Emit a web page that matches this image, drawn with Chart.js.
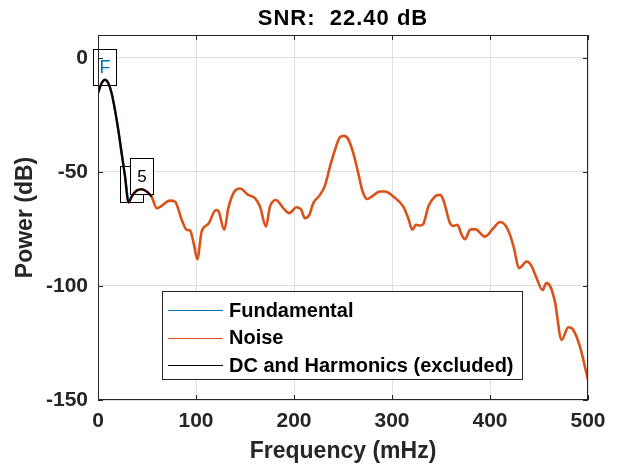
<!DOCTYPE html>
<html lang="en">
<head>
<meta charset="utf-8" />
<title>SNR spectrum</title>
<script src="https://cdn.jsdelivr.net/npm/chart.js/dist/chart.umd.min.js"></script>
<style>
  * { margin: 0; padding: 0; }
  body { background: #fff; }
  .chartBox { width: 617px; height: 470px; }
</style>
</head>
<body>
<div class="chartBox"><canvas id="snrChart" width="617" height="470"></canvas></div>
<script>
const titleText = "SNR:  22.40 dB";
const xTitle = "Frequency (mHz)";
const yTitle = "Power (dB)";
const xTicks = [0, 100, 200, 300, 400, 500];
const yTicks = [-150, -100, -50, 0];
const seriesLabels = ["Fundamental", "Noise", "DC and Harmonics (excluded)"];
const seriesColors = ["#0072BD", "#D95319", "#000000"];

// noise spectrum (mHz, dB)
const noiseFreq = [0, 3.7, 7.1, 10.5, 13.9, 17.3, 20.7, 24.1, 27.6, 31, 34.4, 39.4, 44.5, 49.6, 54.7,
  59.8, 73.5, 78.6, 85.4, 90.5, 93.9, 98, 101.3, 105.8, 112.6, 120.4, 122.8, 128.9, 133, 139.8,
  144.9, 153.4, 160.2, 165.3, 171.4, 175.5, 181.6, 189.1, 195.2, 202.7, 207.1, 211.2, 215.6, 219.7,
  226.5, 231.6, 236.7, 241.8, 246.9, 251, 255.4, 260.5, 265.6, 270, 274.8, 279.3, 287.8, 292.9,
  301.3, 311.5, 316.6, 320.7, 324.5, 328.6, 332, 337.1, 343.9, 349, 352.4, 359.2, 362.6, 366.7,
  371.1, 374.5, 379.6, 384.7, 394.9, 403.4, 410.2, 415.3, 420.4, 424, 429.9, 437.4, 442, 447,
  453.7, 457.5, 461.5, 466.3, 473.1, 479.9, 485, 491.8, 500];
const noisePower = [-15.5, -11.1, -9.6, -11.1, -15.5, -22.8, -31.6, -41.8, -52, -63.4, -60.8, -58.2, -57.6, -58.6, -60.8,
  -65.9, -62.6, -63, -71, -75.4, -75.7, -82, -88.3, -76.1, -72.8, -66.7, -67.1, -75.4, -65.9, -58.2,
  -57.3, -60.1, -61.5, -65.2, -74, -65.2, -62.3, -65.9, -68.1, -65.5, -66.4, -70.3, -68.9, -63.7,
  -60.1, -56, -47.7, -40.4, -34.8, -34.2, -35.7, -41.8, -50.6, -58.6, -61.9, -60.8, -58.6, -58.6,
  -60.8, -65.2, -70.3, -75.4, -73.2, -73.5, -72.8, -65.2, -60.8, -60.1, -62.3, -72.5, -73.7, -73.2,
  -77.6, -79.5, -75.4, -75.1, -78.4, -74.7, -72, -73.2, -77.6, -82.7, -92.2, -89.3, -91, -96,
  -101.8, -98.7, -100.2, -107, -123.7, -118.1, -119.3, -126.6, -141.2];

// fundamental lobe
const fundFreq = [0, 3.7, 7.1, 10.5, 13.9, 17.3, 20.7, 24.1, 27.6, 31];
const fundPower = [-15.5, -11.1, -9.6, -11.1, -15.5, -22.8, -31.6, -41.8, -52, -63.4];

// DC and harmonics (excluded)
const harmFreq = [0, 3.7, 7.1, 10.5, 13.9, 17.3, 20.7, 24.1, 27.6, 31, 34.4, 39.4, 44.5, 49.6, 54.7];
const harmPower = [-15.5, -11.1, -9.6, -11.1, -15.5, -22.8, -31.6, -41.8, -52, -63.4, -60.8, -58.2, -57.6, -58.6, -60.8];

// labels sitting on the harmonic trace (index into harmFreq)
const markLabels = ["F", "", "5"];
const markIndex = [2, 10, 12];
const markColors = ["#0072BD", "#000000", "#000000"];

const FONT = "'Liberation Sans', Arial, sans-serif";
const toPoints = (xs, ys) => xs.map((x, i) => ({ x: x, y: ys[i] }));

const boxPlugin = {
  id: "snrDecor",
  beforeDatasetsDraw(chart) {
    // text boxes for fundamental / harmonics, drawn under the traces
    const ctx = chart.ctx;
    const xs = chart.scales.x, ys = chart.scales.y;
    ctx.save();
    markLabels.forEach((label, i) => {
      const px = xs.getPixelForValue(harmFreq[markIndex[i]]);
      const py = ys.getPixelForValue(harmPower[markIndex[i]]);
      const w = 23, h = 36;
      const bx = Math.round(px - w / 2) + 0.5;
      const by = Math.round(py + 5 - h) + 0.5;
      ctx.fillStyle = "#fff";
      ctx.fillRect(bx, by, w, h);
      ctx.strokeStyle = "#000";
      ctx.lineWidth = 1;
      ctx.strokeRect(bx, by, w, h);
      if (label) {
        ctx.fillStyle = markColors[i];
        ctx.font = (label === "F" ? "18px " : "17px ") + FONT;
        ctx.textAlign = "center";
        ctx.textBaseline = "middle";
        ctx.fillText(label, bx + w / 2, by + h / 2 + 1);
      }
    });
    ctx.restore();
  },
  afterDatasetsDraw(chart) {
    const ctx = chart.ctx;
    const a = chart.chartArea;
    const xs = chart.scales.x, ys = chart.scales.y;
    ctx.save();
    ctx.strokeStyle = "#262626";
    ctx.lineWidth = 1;
    ctx.strokeRect(Math.round(a.left) + 0.5, Math.round(a.top) + 0.5,
      Math.round(a.right - a.left) - 1, Math.round(a.bottom - a.top) - 1);
    const tl = 5;
    ctx.beginPath();
    xTicks.forEach(v => {
      const px = Math.round(xs.getPixelForValue(v)) + 0.5;
      ctx.moveTo(px, a.bottom); ctx.lineTo(px, a.bottom - tl);
      ctx.moveTo(px, a.top); ctx.lineTo(px, a.top + tl);
    });
    yTicks.forEach(v => {
      const py = Math.round(ys.getPixelForValue(v)) + 0.5;
      ctx.moveTo(a.left, py); ctx.lineTo(a.left + tl, py);
      ctx.moveTo(a.right, py); ctx.lineTo(a.right - tl, py);
    });
    ctx.stroke();

    // title
    ctx.fillStyle = "#000";
    ctx.font = "bold 22px " + FONT;
    ctx.letterSpacing = "1px";
    ctx.textAlign = "center";
    ctx.textBaseline = "middle";
    ctx.fillText(titleText, (a.left + a.right) / 2, 19);
    ctx.letterSpacing = "0px";

    // legend box
    const lx = 162.5, ly = 291.5, lw = 360, lh = 88;
    ctx.fillStyle = "#fff";
    ctx.fillRect(lx, ly, lw, lh);
    ctx.strokeStyle = "#262626";
    ctx.strokeRect(lx, ly, lw, lh);
    ctx.font = "bold 20px " + FONT;
    ctx.textAlign = "left";
    chart.data.datasets.forEach((ds, i) => {
      const rowY = 310 + i * 27.5;
      ctx.strokeStyle = ds.borderColor;
      ctx.lineWidth = 1;
      ctx.beginPath();
      ctx.moveTo(168, Math.round(rowY) + 0.5);
      ctx.lineTo(223, Math.round(rowY) + 0.5);
      ctx.stroke();
      ctx.fillStyle = "#000";
      ctx.fillText(ds.label, 229, rowY + 1);
    });
    ctx.restore();
  }
};

const config = {
  type: "line",
  data: {
    datasets: [
      { label: seriesLabels[0], data: toPoints(fundFreq, fundPower), borderColor: seriesColors[0], borderWidth: 2, order: 2 },
      { label: seriesLabels[1], data: toPoints(noiseFreq, noisePower), borderColor: seriesColors[1], borderWidth: 2.6, order: 3 },
      { label: seriesLabels[2], data: toPoints(harmFreq, harmPower), borderColor: seriesColors[2], borderWidth: 2, order: 1 }
    ]
  },
  options: {
    responsive: false,
    animation: false,
    layout: { padding: { left: 0, top: 35, right: 29, bottom: 0 } },
    elements: {
      point: { radius: 0 },
      line: { cubicInterpolationMode: "monotone", fill: false }
    },
    plugins: {
      legend: { display: false },
      tooltip: { enabled: false },
      title: { display: false }
    },
    scales: {
      x: {
        type: "linear",
        min: 0,
        max: 500,
        afterBuildTicks: s => { s.ticks = xTicks.map(v => ({ value: v })); },
        afterFit: s => { s.height = 70; },
        border: { display: false },
        grid: { color: "#dfdfdf", drawTicks: false },
        ticks: { autoSkip: false, maxRotation: 0, padding: 9, color: "#262626", font: { family: FONT, size: 21, weight: "bold" } },
        title: { display: true, text: xTitle, color: "#262626", padding: { top: 0, bottom: 5 }, font: { family: FONT, size: 23, weight: "bold" } }
      },
      y: {
        min: -150,
        max: 10,
        afterBuildTicks: s => { s.ticks = yTicks.map(v => ({ value: v })); },
        afterFit: s => { s.width = 98; },
        border: { display: false },
        grid: { color: "#dfdfdf", drawTicks: false },
        ticks: { padding: 10, color: "#262626", font: { family: FONT, size: 21, weight: "bold" } },
        title: { display: true, text: yTitle, color: "#262626", padding: { top: 12, bottom: 0 }, font: { family: FONT, size: 23, weight: "bold" } }
      }
    }
  },
  plugins: [boxPlugin]
};

const snrChart = new Chart(document.getElementById("snrChart"), config);
</script>
</body>
</html>
